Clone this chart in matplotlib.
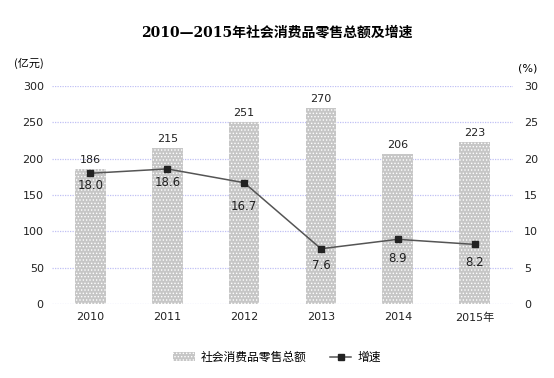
import numpy as np
import matplotlib.pyplot as plt

plt.rcParams['font.family'] = ['DejaVu Sans', 'Noto Sans CJK SC']

# data
years = ['2010', '2011', '2012', '2013', '2014', '2015年']
sales = [186, 215, 251, 270, 206, 223]
growth = [18.0, 18.6, 16.7, 7.6, 8.9, 8.2]
growth_labels = ['18.0', '18.6', '16.7', '7.6', '8.9', '8.2']
label_drop = [-9, -9.5, -17, -12, -14, -13]   # offsets of growth labels (points)

x = np.arange(len(years))

fig = plt.figure(figsize=(5.54, 3.78), dpi=100)
ax = fig.add_axes([0.094, 0.196, 0.832, 0.576])
ax2 = ax.twinx()

# bars
plt.rcParams['hatch.color'] = 'white'
plt.rcParams['hatch.linewidth'] = 0.6
bars = ax.bar(x, sales, width=0.4, color='#c6c6c6', hatch='.....',
              edgecolor='white', linewidth=0, label='社会消费品零售总额', zorder=2)
for xi, v in zip(x, sales):
    ax.annotate(str(v), (xi, v), xytext=(0, 3), textcoords='offset points',
                ha='center', va='bottom', fontsize=8, color='#222222')

ax.set_xlim(-0.5, len(years) - 0.5)
ax.set_ylim(0, 300)
ax.set_yticks(np.arange(0, 301, 50))
ax.set_xticks(x)
ax.set_xticklabels(years)
ax.yaxis.grid(True, color='#c0c0f4', linestyle=(0, (1, 1)), linewidth=0.9)
ax.set_axisbelow(True)
for s in ax.spines.values():
    s.set_visible(False)
for s in ax2.spines.values():
    s.set_visible(False)
ax.tick_params(length=0, labelsize=8, colors='#222222', pad=6)

# line
ax2.plot(x, growth, color='#555555', linewidth=1.1, marker='s', markersize=5,
         markerfacecolor='#222222', markeredgecolor='#222222', label='增速', zorder=3)
for xi, v, t, d in zip(x, growth, growth_labels, label_drop):
    ax2.annotate(t, (xi, v), xytext=(0, d), textcoords='offset points',
                 ha='center', va='center', fontsize=8.5, color='#222222')
ax2.set_ylim(0, 30)
ax2.set_yticks(np.arange(0, 31, 5))
ax2.tick_params(length=0, labelsize=8, colors='#222222', pad=8)

fig.text(0.5, 0.915, '2010—2015年社会消费品零售总额及增速', ha='center', va='center',
         fontsize=10, fontweight='bold', family=['DejaVu Serif', 'Noto Sans CJK SC'])
fig.text(0.025, 0.832, '(亿元)', ha='left', va='center', fontsize=8,
         family=['Noto Sans CJK SC'])
fig.text(0.935, 0.818, '(%)', ha='left', va='center', fontsize=8)

h1, l1 = ax.get_legend_handles_labels()
h2, l2 = ax2.get_legend_handles_labels()
fig.legend(h1 + h2, l1 + l2, loc='center', bbox_to_anchor=(0.5, 0.055), ncol=2,
           frameon=False, handlelength=1.8, handleheight=0.7, handletextpad=0.5,
           columnspacing=2.0, prop={'family': ['Noto Sans CJK SC'], 'size': 8.5})

fig.savefig('out.png', dpi=100)
